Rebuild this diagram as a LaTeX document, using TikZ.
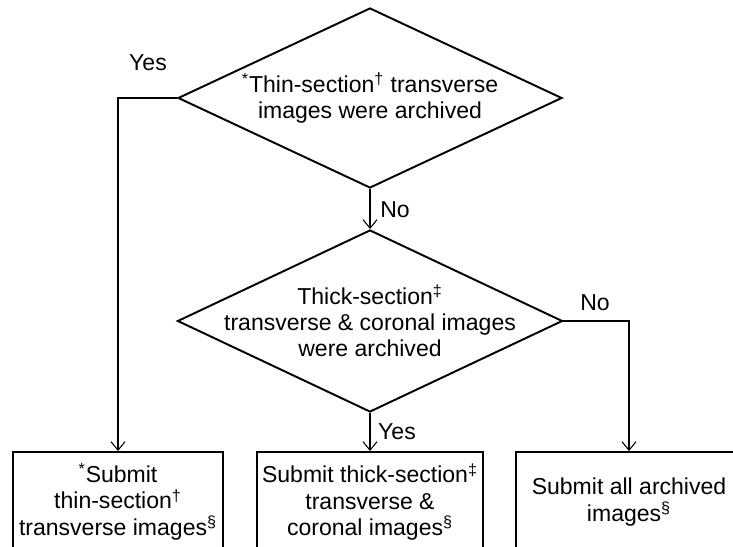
\documentclass[tikz,border=0pt]{standalone}
\usepackage{fontspec}
\setmainfont{Liberation Sans}
\usetikzlibrary{shapes.geometric,arrows.meta}
\begin{document}
\begin{tikzpicture}[
	font=\fontsize{13.1}{15}\selectfont,
	decision/.style={diamond, draw, line width=1.1pt, inner sep=0pt, minimum width=7.68cm, minimum height=3.6cm},
	outcome/.style={rectangle, draw, line width=1.1pt, inner sep=0pt, align=center, minimum height=2cm},
	words/.style={align=center, inner sep=0pt},
	link/.style={line width=0.6pt, -{Straight Barb[length=1.7mm, width=2.8mm]}}]
		\useasboundingbox (0,0) rectangle (14.66,10.94);
		% decisions
		\node[decision] (thin) at (7.4,8.98) {};
		\node[words] (thintext) at (7.4,8.98) {\textsuperscript{*}Thin-section\textsuperscript{†} transverse\\images were archived};
		\node[decision, minimum width=7.7cm, minimum height=3.64cm] (thick) at (7.4,4.52) {};
		\node[words] (thicktext) at (7.4,4.52) {Thick-section\textsuperscript{‡}\\transverse \& coronal images\\were archived};
		% outcomes
		\node[outcome, minimum width=4.2cm] (subthin) at (2.36,0.9) {\textsuperscript{*}Submit\\thin-section\textsuperscript{†}\\transverse images\textsuperscript{§}};
		\node[outcome, minimum width=4.52cm] (subthick) at (7.4,0.9) {Submit thick-section\textsuperscript{‡}\\transverse \&\\coronal images\textsuperscript{§}};
		\node[outcome, minimum width=4.52cm] (suball) at (12.58,0.9) {Submit all archived\\images\textsuperscript{§}};
		% connectors
		\draw[link] (thin.west) -| (subthin.north);
		\draw[link] (thin.south) -- (thick.north);
		\draw[link] (thick.south) -- (subthick.north);
		\draw[link] (thick.east) -| (suball.north);
		% labels
		\node (yesthin) at (2.96,9.68) {Yes};
		\node (nothin) at (7.9,6.74) {No};
		\node (nothick) at (11.9,4.88) {No};
		\node (yesthick) at (7.94,2.3) {Yes};
	\end{tikzpicture}
\end{document}
